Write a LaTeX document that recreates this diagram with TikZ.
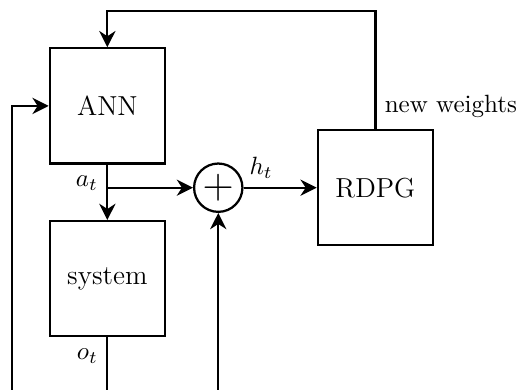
\documentclass[tikz,border=0pt]{standalone}
\usepackage{tikz}
\usetikzlibrary{positioning,arrows.meta,calc}
\usepackage{amsmath,amssymb}

\begin{document}
\begin{tikzpicture}[
    block/.style={draw,line width=0.9pt,minimum size=1.62cm,font=\fontsize{11}{13}\selectfont},
    sumnode/.style={draw,line width=0.9pt,circle,minimum size=0.68cm,inner sep=0pt,font=\LARGE},
    arr/.style={-{Stealth[length=6.5pt,width=6.5pt]},line width=0.9pt}
  ]
    \useasboundingbox (0,0) rectangle (7.30,5.48);

    % blocks
    \node[block] (ann) at (1.51,3.99) {ANN};
    \node[block] (sys) at (1.51,1.56) {system};
    \node[block] (rdpg) at (5.28,2.84) {RDPG};
    \node[sumnode] (sum) at (3.07,2.84) {$+$};

    % loose ends
    \coordinate (top) at (5.28,5.33);
    \coordinate (inleft) at (0.17,0);
    \coordinate (insum) at (3.07,0);
    \coordinate (outsys) at (1.51,0);

    % forward path
    \draw[arr] (ann) -- node[pos=0.33,left] {$a_t$} (sys);
    \draw[arr] (ann.south |- sum.west) -- (sum.west);
    \draw[arr] (sum) -- node[pos=0.24,above] {$h_t$} (rdpg);
    \draw[line width=0.9pt] (sys) -- node[pos=0.36,left] {$o_t$} (outsys);

    % feedback
    \draw[arr] (rdpg.north) -- node[pos=0.19,right] {new weights} (top) -| (ann.north);
    \draw[arr] (inleft) |- (ann.west);
    \draw[arr] (insum) -- (sum.south);
\end{tikzpicture}
\end{document}
